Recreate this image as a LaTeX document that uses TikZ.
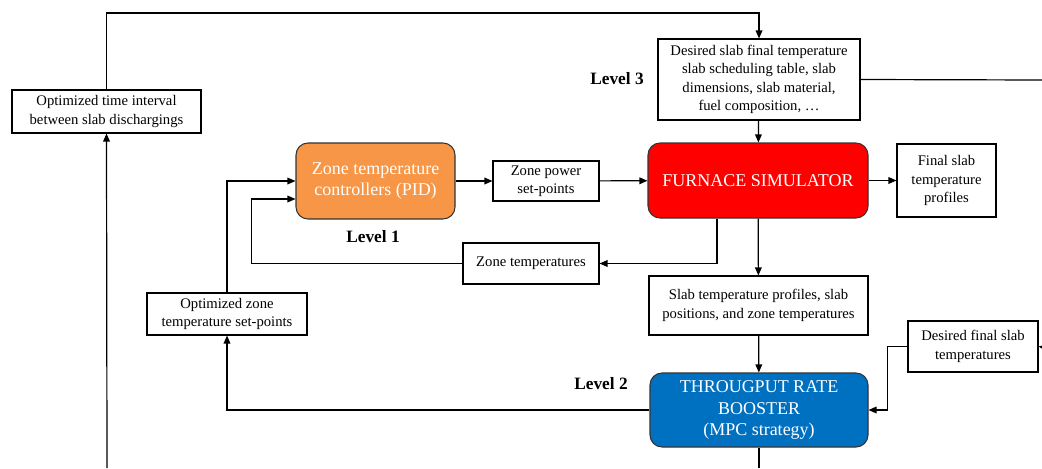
\documentclass[tikz,border=0pt]{standalone}
\usepackage{fontspec}
\setmainfont{Liberation Serif}
\usetikzlibrary{positioning, arrows.meta, calc}
\definecolor{pidorange}{RGB}{247, 150, 70}
\definecolor{simred}{RGB}{255, 0, 0}
\definecolor{mpcblue}{RGB}{0, 112, 192}

\begin{document}
\begin{tikzpicture}[x=0.75pt, y=-0.75pt,
        infobox/.style={draw=black, line width=0.8pt, fill=white, inner sep=0pt,
              align=center, font=\fontsize{11}{13.8}\selectfont},
        ctrlblock/.style={draw=black!80, line width=0.8pt, rounded corners=9pt, inner sep=0pt,
              align=center, text=white, font=\fontsize{13.5}{16}\selectfont},
        lvltag/.style={font=\fontsize{13}{15}\selectfont\bfseries},
        arr/.style={-{Triangle[length=6pt, width=5pt]}, line width=0.9pt},
        wire/.style={line width=0.9pt}]
    \useasboundingbox (0,0) rectangle (1042,468);

    % Level 3
    \node[infobox, minimum width=151.5pt, minimum height=60.75pt] (sched) at (759,79.5)
        {Desired slab final temperature\\ slab scheduling table, slab\\ dimensions, slab material,\\ fuel composition, \dots};
    \node[lvltag] (lvlthree) at (617,79) {Level 3};
    \node[infobox, minimum width=141.75pt, minimum height=32.25pt] (tint) at (106.5,111.5)
        {Optimized time interval\\ between slab dischargings};

    % simulator row
    \node[ctrlblock, fill=simred, minimum width=165pt, minimum height=56.25pt] (furn) at (758,180.5)
        {FURNACE SIMULATOR};
    \node[infobox, minimum width=74.25pt, minimum height=54.75pt] (finalprof) at (946.5,180.5)
        {Final slab\\ temperature\\ profiles};
    \node[ctrlblock, fill=pidorange, minimum width=119.25pt, minimum height=57pt] (pid) at (375.5,181)
        {Zone temperature\\ controllers (PID)};
    \node[infobox, minimum width=79.5pt, minimum height=30pt] (zpower) at (546,181)
        {Zone power\\ set-points};
    \node[lvltag] (lvlone) at (373,237) {Level 1};
    \node[infobox, minimum width=102pt, minimum height=30.75pt] (ztemp) at (531,263.5)
        {Zone temperatures};

    % Level 2
    \node[infobox, minimum width=120pt, minimum height=31.5pt] (zsetp) at (227,314)
        {Optimized zone\\ temperature set-points};
    \node[infobox, minimum width=164.25pt, minimum height=44.25pt] (slabinfo) at (758.5,305.5)
        {Slab temperature profiles, slab\\ positions, and zone temperatures};
    \node[ctrlblock, fill=mpcblue, minimum width=163.5pt, minimum height=55.5pt] (boost) at (759,410)
        {THROUGPUT RATE\\ BOOSTER\\ (MPC strategy)};
    \node[lvltag] (lvltwo) at (601,384) {Level 2};
    \node[infobox, minimum width=97.5pt, minimum height=38.25pt] (dfinal) at (973,346.5)
        {Desired final slab\\ temperatures};

    % loose ends at the picture border
    \coordinate (topbend) at (759,13);
    \coordinate (rightthree) at (1042,80);
    \coordinate (righttwo) at (1042,347);
    \coordinate (botleft) at (107,468);
    \coordinate (botmid) at (759,468);

    % connectors
    \draw[arr] (tint.north) |- (topbend) -- (sched.north);
    \draw[wire] (sched.east) -- (rightthree);
    \draw[arr] (sched) -- (furn);
    \draw[arr] (furn) -- (finalprof);
    \draw[arr] (pid) -- (zpower);
    \draw[arr] (zpower) -- (furn);
    \draw[arr] ($(furn.south)+(-41,0)$) |- (ztemp.east);
    \draw[arr] (ztemp.west) -| ($(pid.west)+(-44,18)$) -- ($(pid.west)+(0,18)$);
    \draw[arr] (zsetp.north) |- (pid.west);
    \draw[arr] (furn) -- (slabinfo);
    \draw[arr] (slabinfo) -- (boost);
    \draw[arr] (boost.west) -| (zsetp.south);
    \draw[wire] (boost.south) -- (botmid);
    \draw[arr] (dfinal.west) -- ++(-20,0) |- (boost.east);
    \draw[arr] (righttwo) -- (dfinal.east);
    \draw[arr] (botleft) -- (tint.south);
\end{tikzpicture}
\end{document}
